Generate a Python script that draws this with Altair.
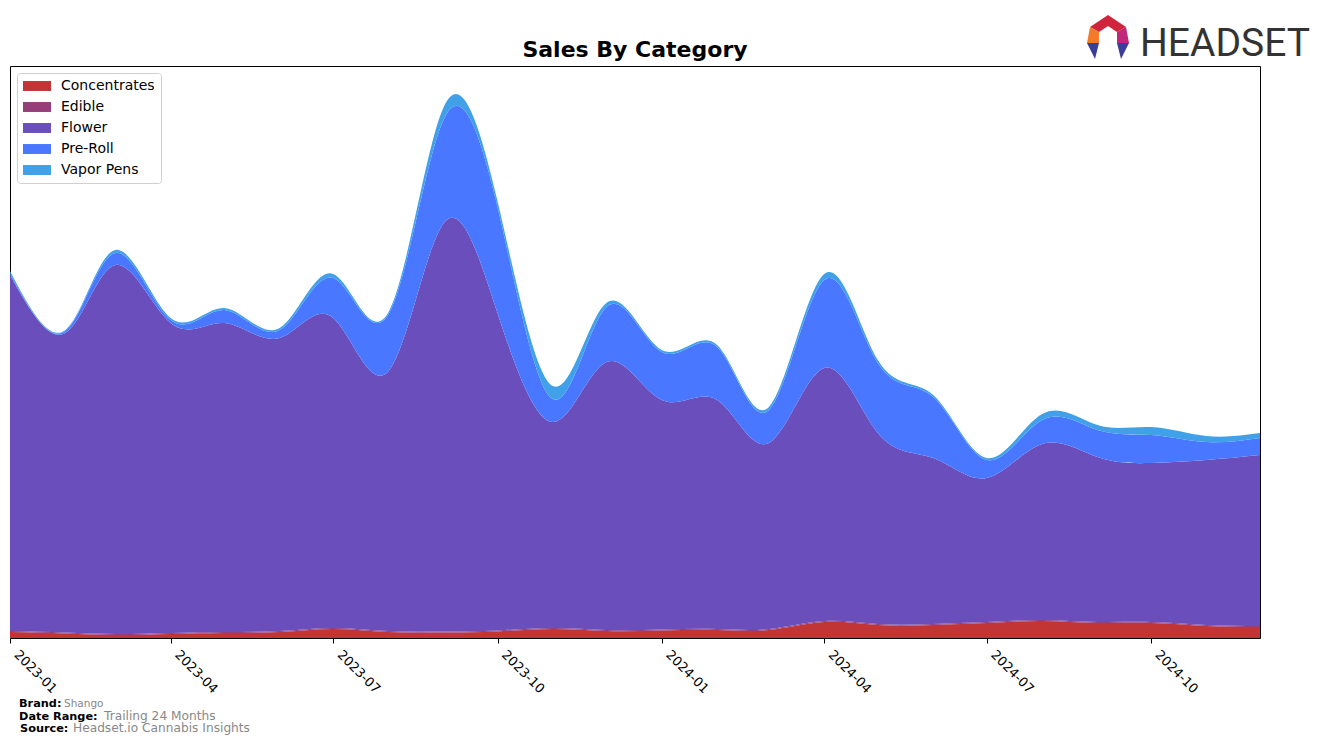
import altair as alt
import pandas as pd

months = ["2023-01", "2023-02", "2023-03", "2023-04", "2023-05", "2023-06",
          "2023-07", "2023-08", "2023-09", "2023-10", "2023-11", "2023-12",
          "2024-01", "2024-02", "2024-03", "2024-04", "2024-05", "2024-06",
          "2024-07", "2024-08", "2024-09", "2024-10", "2024-11", "2024-12"]

categories = ["Concentrates", "Edible", "Flower", "Pre-Roll", "Vapor Pens"]
colors = ["#C13536", "#963E7A", "#6A4EBB", "#4977FF", "#40A0E8"]

concentrates = [6, 4.5, 3, 4, 5, 6, 9, 6, 5.5, 6.5, 9, 7,
                7.5, 8, 8, 16, 13, 13, 15, 17, 15, 15, 12, 11]
edible = [1, 1, 1, 1, 1, 1, 1, 1, 1, 1, 1, 1,
          1, 1, 1, 1, 1, 1, 1, 1, 1, 1, 1, 1]
flower = [356, 299.5, 369, 310, 309, 293, 310, 260, 408.5, 317.5, 206, 268,
          229.5, 229, 186, 253, 191, 166, 144, 176, 165, 159, 165, 171]
pre_roll = [2, 2, 12, 3, 13, 8, 40, 57, 104, 106, 23, 55,
            48, 53, 33, 88, 70, 61, 18, 24, 27, 28, 18, 17]
vapor_pens = [2, 1, 3, 2, 2, 2, 4, 2, 12.5, 6, 13, 4,
              2, 2, 3, 6, 3, 2, 2, 6, 5, 8, 6, 5]

tick_months = ["2023-01", "2023-04", "2023-07", "2023-10",
               "2024-01", "2024-04", "2024-07", "2024-10"]

series = [concentrates, edible, flower, pre_roll, vapor_pens]
rows = []
for ci, (cat, vals) in enumerate(zip(categories, series)):
    for m, v in zip(months, vals):
        rows.append({"date": m + "-01", "category": cat, "value": v, "order": ci})
df = pd.DataFrame(rows)


def dt(s):
    y, m = s.split("-")
    return alt.DateTime(year=int(y), month=int(m), date=1, utc=True)


rect_path = "M-2,-0.71H2V0.71H-2Z"

area = alt.Chart(df).mark_area(interpolate="natural", opacity=1).encode(
    x=alt.X("date:T",
            scale=alt.Scale(type="utc", domain=[dt(months[0]), dt(months[-1])], nice=False),
            axis=alt.Axis(values=[dt(t) for t in tick_months],
                          labelExpr="utcFormat(datum.value, '%Y-%m')",
                          title=None, domain=False, grid=False,
                          tickColor="black", tickSize=5, labelAngle=45,
                          labelAlign="left", labelBaseline="top", labelPadding=5,
                          labelOffset=10,
                          labelFont="DejaVu Sans", labelFontSize=13,
                          labelColor="black", labelOverlap=False, labelBound=False)),
    y=alt.Y("value:Q", stack="zero",
            scale=alt.Scale(domain=[0, 572], nice=False, zero=True), axis=None),
    color=alt.Color("category:N",
                    scale=alt.Scale(domain=categories, range=colors),
                    legend=alt.Legend(orient="none", legendX=7, legendY=7, title=None,
                                      fillColor="white", strokeColor="#d0d0d0",
                                      cornerRadius=3, padding=6,
                                      symbolType=rect_path, symbolSize=196,
                                      symbolOffset=7, labelOffset=17, rowPadding=7,
                                      symbolStrokeWidth=0, symbolOpacity=1,
                                      labelFont="DejaVu Sans", labelFontSize=14,
                                      labelColor="black")),
    order=alt.Order("order:Q", sort="ascending"),
)

title = alt.Chart(pd.DataFrame({"t": ["Sales By Category"]})).mark_text(
    font="DejaVu Sans", fontSize=22, fontWeight="bold", align="center",
    baseline="alphabetic", color="black"
).encode(x=alt.value(625), y=alt.value(-9), text="t:N")


def label(txt, x, y, size, bold, color):
    return alt.Chart(pd.DataFrame({"t": [txt]})).mark_text(
        font="DejaVu Sans", fontSize=size, fontWeight="bold" if bold else "normal",
        align="left", baseline="alphabetic", color=color
    ).encode(x=alt.value(x), y=alt.value(y), text="t:N")


footer = [
    label("Brand:", 9, 641, 11.3, True, "black"),
    label("Shango", 54, 641, 10.5, False, "#888888"),
    label("Date Range:", 9, 654, 11.3, True, "black"),
    label("Trailing 24 Months", 94, 654, 12.2, False, "#888888"),
    label("Source:", 10, 666, 11.3, True, "black"),
    label("Headset.io Cannabis Insights", 63, 666, 12.2, False, "#888888"),
]

logo_text = alt.Chart(pd.DataFrame({"t": ["HEADSET"]})).mark_text(
    font="Roboto", fontSize=39,
    align="left", baseline="alphabetic", color="#333333"
).encode(x=alt.value(1130), y=alt.value(-10), text="t:N")

logo_pieces = [
    ("M-18,-10L0,-22L18,-10L9,-5L0,-11L-9,-5Z", "#D0243C"),
    ("M-18,-10L-9,-5L-9,6L-21,6Z", "#F47A2A"),
    ("M18,-10L9,-5L9,6L21,6Z", "#C0267A"),
    ("M-21,6L-9,6L-13,22Z", "#3B3D9A"),
    ("M21,6L9,6L13,22Z", "#3B3D9A"),
]
logo_layers = [
    alt.Chart(pd.DataFrame({"k": [0]})).mark_point(
        shape=p, size=4, filled=True, fill=c, opacity=1, strokeWidth=0
    ).encode(x=alt.value(1098), y=alt.value(-29))
    for p, c in logo_pieces
]

chart = alt.layer(area, title, *footer, logo_text, *logo_layers).properties(
    width=1250, height=572,
    autosize=alt.AutoSizeParams(type="none"),
    padding={"left": 2, "top": 58, "right": 56, "bottom": 99},
).configure_view(stroke="black", strokeWidth=1)

chart.save("out.html", embed_options={"renderer": "svg", "actions": False})
